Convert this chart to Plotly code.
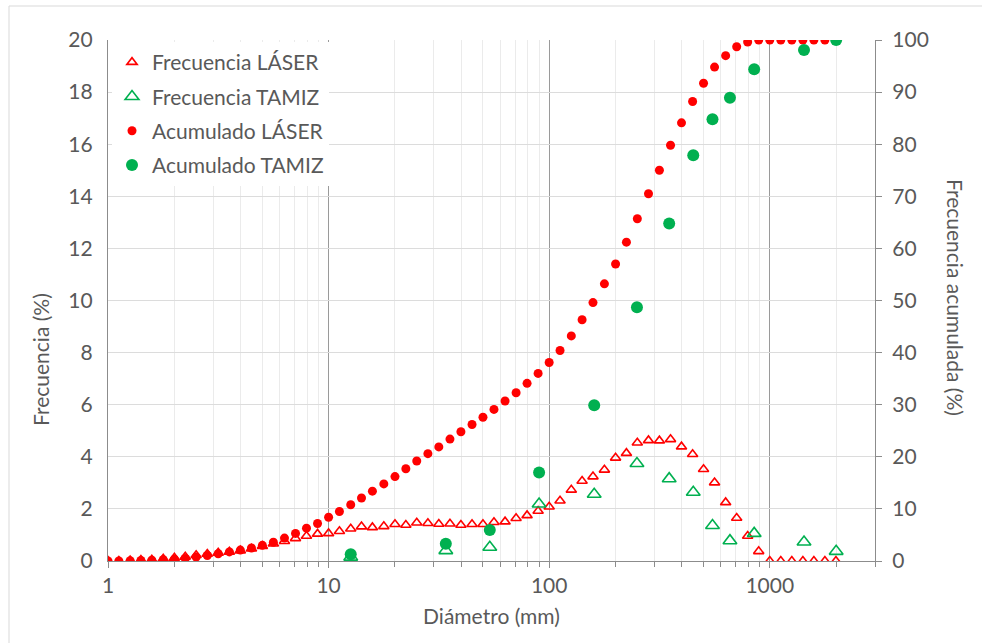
import plotly.graph_objects as go

# ---------------- data ----------------
laser_d = [1.00, 1.12, 1.26, 1.41, 1.58, 1.78, 2.00, 2.24, 2.51, 2.82,
           3.16, 3.55, 3.98, 4.47, 5.01, 5.62, 6.31, 7.08, 7.94, 8.91,
           10.0, 11.2, 12.6, 14.1, 15.8, 17.8, 20.0, 22.4, 25.1, 28.2,
           31.6, 35.5, 39.8, 44.7, 50.1, 56.2, 63.1, 70.8, 79.4, 89.1,
           100, 112, 126, 141, 158, 178, 200, 224, 251, 282,
           316, 355, 398, 447, 501, 562, 631, 708, 794, 891,
           1000, 1122, 1259, 1413, 1585, 1778, 1995]

laser_freq = [0.00, 0.00, 0.02, 0.04, 0.05, 0.08, 0.12, 0.16, 0.22, 0.27,
              0.31, 0.35, 0.40, 0.47, 0.57, 0.66, 0.76, 0.87, 0.96, 1.04,
              1.06, 1.14, 1.24, 1.32, 1.29, 1.33, 1.41, 1.38, 1.47, 1.45,
              1.42, 1.43, 1.38, 1.41, 1.41, 1.49, 1.51, 1.64, 1.75, 1.92,
              2.08, 2.31, 2.73, 3.07, 3.24, 3.50, 3.96, 4.14, 4.54, 4.63,
              4.62, 4.67, 4.39, 4.10, 3.52, 3.01, 2.25, 1.65, 0.96, 0.37,
              0.00, 0.00, 0.00, 0.00, 0.00, 0.00, 0.00]

laser_cum = [0.0, 0.0, 0.05, 0.1, 0.15, 0.25, 0.35, 0.5, 0.75, 1.05,
             1.4, 1.75, 2.1, 2.5, 3.0, 3.6, 4.4, 5.3, 6.3, 7.2,
             8.4, 9.5, 10.8, 12.1, 13.4, 14.8, 16.2, 17.7, 19.2, 20.6,
             21.9, 23.4, 24.8, 26.2, 27.6, 29.1, 30.7, 32.3, 34.1, 36.0,
             38.1, 40.4, 43.2, 46.3, 49.6, 53.2, 57.0, 61.2, 65.7, 70.5,
             75.0, 79.8, 84.1, 88.2, 91.7, 94.8, 97.0, 98.7, 99.6, 100,
             100, 100, 100, 100, 100, 100, 100]

tamiz_d = [12.6, 34, 53.8, 90, 160, 250, 350, 450, 550, 660, 850, 1430, 2000]
tamiz_freq = [0.15, 0.40, 0.53, 2.19, 2.56, 3.74, 3.16, 2.64, 1.36, 0.78, 1.06, 0.73, 0.37]
tamiz_cum = [1.3, 3.3, 5.95, 17.0, 29.9, 48.7, 64.8, 77.9, 84.8, 88.9, 94.4, 98.1, 100]

left_ticks = [0, 2, 4, 6, 8, 10, 12, 14, 16, 18, 20]
right_ticks = [0, 10, 20, 30, 40, 50, 60, 70, 80, 90, 100]
x_ticks = [1, 10, 100, 1000]

# ---------------- style ----------------
RED = "#ff0000"
GREEN = "#00b050"
TXT = "#595959"
FONT = "Lato"
FS = 21
W, H = 982, 643
ML, MR, MT, MB = 108, 107, 40, 82
PW, PH = W - ML - MR, H - MT - MB


def px(xp):
    return (xp - ML) / PW


def py(yp):
    return (H - MB - yp) / PH


fig = go.Figure()

fig.add_trace(go.Scatter(
    x=laser_d, y=laser_freq, mode="markers", name="Frecuencia LÁSER",
    legendgroup="a",
    marker=dict(symbol="triangle-up-open", size=9, color=RED, line=dict(width=1.6, color=RED)),
    yaxis="y"))
fig.add_trace(go.Scatter(
    x=tamiz_d, y=tamiz_freq, mode="markers", name="Frecuencia TAMIZ",
    legendgroup="b",
    marker=dict(symbol="triangle-up-open", size=12, color=GREEN, line=dict(width=1.6, color=GREEN)),
    yaxis="y"))
fig.add_trace(go.Scatter(
    x=laser_d, y=laser_cum, mode="markers", name="Acumulado LÁSER",
    legendgroup="c",
    marker=dict(symbol="circle", size=9, color=RED),
    yaxis="y2"))
fig.add_trace(go.Scatter(
    x=tamiz_d, y=tamiz_cum, mode="markers", name="Acumulado TAMIZ",
    legendgroup="d",
    marker=dict(symbol="circle", size=12, color=GREEN),
    yaxis="y2"))

fig.update_layout(
    width=W, height=H,
    margin=dict(l=ML, r=MR, t=MT, b=MB, pad=0),
    paper_bgcolor="white", plot_bgcolor="white",
    font=dict(family=FONT, color=TXT, size=FS),
    showlegend=True,
    legend=dict(x=px(112), y=py(42), xanchor="left", yanchor="top",
                bgcolor="white", borderwidth=0, font=dict(size=FS, color=TXT),
                tracegroupgap=4, itemsizing="trace"),
    xaxis=dict(
        type="log", range=[0, 3.4771], tickvals=x_ticks, ticktext=[str(v) for v in x_ticks],
        showline=True, linecolor="#8c8c8c", linewidth=1.3,
        showgrid=True, gridcolor="#9a9a9a", gridwidth=1.3,
        ticks="outside", ticklen=6, tickcolor="#8c8c8c",
        tickfont=dict(size=FS, color=TXT),
        minor=dict(dtick="D1", showgrid=True, gridcolor="#ebebeb", gridwidth=1,
                   ticks="outside", ticklen=5, tickcolor="#8c8c8c"),
        zeroline=False, mirror=False,
        title=dict(text="Diámetro (mm)", font=dict(size=FS, color=TXT), standoff=12),
    ),
    yaxis=dict(
        range=[0, 20], tickvals=left_ticks, showline=True, linecolor="#8c8c8c", linewidth=1.3,
        showgrid=True, gridcolor="#dcdcdc", gridwidth=1.3,
        ticks="", ticklabelstandoff=10, tickfont=dict(size=FS, color=TXT),
        zeroline=False,
    ),
    yaxis2=dict(
        range=[0, 100], tickvals=right_ticks, overlaying="y", side="right",
        showline=True, linecolor="#8c8c8c", linewidth=1.3, showgrid=False,
        ticks="outside", ticklen=6, tickcolor="#8c8c8c", ticklabelstandoff=6,
        tickfont=dict(size=FS, color=TXT), zeroline=False,
    ),
    annotations=[
        dict(text="Frecuencia (%)", x=px(40), y=py(360), xref="paper", yref="paper",
             textangle=-90, showarrow=False, font=dict(size=FS, color=TXT),
             xanchor="center", yanchor="middle"),
        dict(text="Frecuencia acumulada (%)", x=px(956), y=py(297), xref="paper", yref="paper",
             textangle=90, showarrow=False, font=dict(size=FS, color=TXT),
             xanchor="center", yanchor="middle"),
    ],
    shapes=[
        dict(type="rect", xref="paper", yref="paper",
             x0=px(9), x1=px(995), y0=py(655), y1=py(6),
             line=dict(color="#d9d9d9", width=1), fillcolor="rgba(0,0,0,0)", layer="below"),
    ],
)

fig.write_html("out.html")
